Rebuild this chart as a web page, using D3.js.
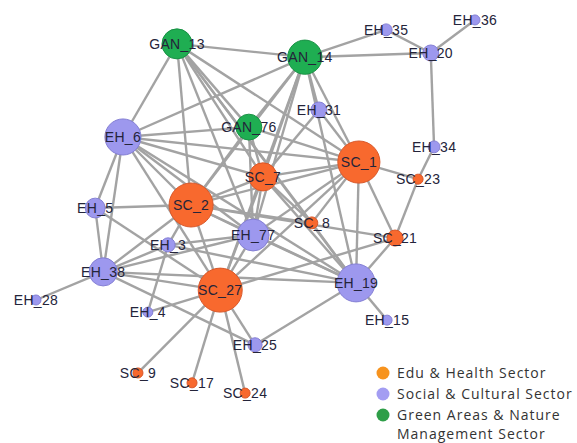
<!DOCTYPE html>
<html>
<head>
<meta charset="utf-8">
<script src="https://cdnjs.cloudflare.com/ajax/libs/d3/7.8.5/d3.min.js"></script>
<style>
  body { margin: 0; background: #fff; }
  #chart { width: 577px; height: 443px; }
</style>
</head>
<body>
<div id="chart"></div>
<script>
// node list: name, sector, layout position (0-100 units) and weight (1-10)
var nodeNames = ["GAN_13","GAN_14","EH_35","EH_36","EH_20","EH_31","GAN_76","EH_6","SC_7","SC_1",
                 "EH_34","SC_23","SC_2","EH_5","EH_77","SC_8","SC_21","EH_3","EH_38","SC_27",
                 "EH_19","EH_28","EH_4","EH_15","EH_25","SC_9","SC_17","SC_24"];
var nodeSector = ["GAN","GAN","EH","EH","EH","EH","GAN","EH","SC","SC",
                  "EH","SC","SC","EH","EH","SC","SC","EH","EH","SC",
                  "EH","EH","EH","EH","EH","SC","SC","SC"];
var nodeX = [33.4,60.6,77.9,96.8,87.4,63.6,48.7,21.9,51.7,72.1,
             88.1,84.7,36.4,16.0,49.6,62.1,79.8,31.5,17.7,42.6,
             71.5,3.4,27.2,78.1,50.0,25.1,36.6,47.9];
var nodeY = [7.6,11.1,3.9,1.3,10.0,25.0,29.5,32.1,42.6,38.7,
             34.7,43.2,50.0,50.8,57.9,54.7,58.7,60.5,67.6,72.4,
             70.5,75.0,78.2,80.3,86.8,94.2,96.8,99.5];
var nodeWeight = [6.3,7.4,1.5,1,2.6,2.6,5.2,7.9,5.8,9.5,
                  1.5,1,10,3.6,6.8,1.5,2.6,2.1,5.8,10,
                  8.4,1,1,1,2.1,1,1,1];

var edgeList = [
  ["GAN_13","GAN_14"],["GAN_13","EH_6"],["GAN_13","SC_2"],["GAN_13","GAN_76"],["GAN_13","SC_7"],
  ["GAN_13","EH_77"],["GAN_13","SC_1"],["GAN_13","SC_8"],["GAN_13","EH_19"],
  ["GAN_14","EH_35"],["GAN_14","EH_20"],["GAN_14","EH_6"],["GAN_14","GAN_76"],["GAN_14","SC_2"],
  ["GAN_14","SC_7"],["GAN_14","EH_77"],["GAN_14","SC_27"],["GAN_14","EH_31"],["GAN_14","SC_1"],
  ["GAN_14","EH_19"],
  ["EH_35","EH_20"],["EH_20","EH_36"],["EH_20","EH_34"],["EH_34","SC_23"],["SC_23","SC_1"],
  ["SC_23","SC_21"],
  ["EH_6","GAN_76"],["EH_6","SC_7"],["EH_6","SC_1"],["EH_6","SC_2"],["EH_6","EH_77"],
  ["EH_6","EH_19"],["EH_6","EH_5"],["EH_6","EH_38"],["EH_6","SC_27"],
  ["EH_5","SC_2"],["EH_5","EH_38"],["EH_5","SC_27"],
  ["EH_38","EH_28"],["EH_38","EH_3"],["EH_38","SC_2"],["EH_38","EH_77"],["EH_38","SC_27"],
  ["EH_38","EH_25"],["EH_38","EH_19"],
  ["EH_3","EH_4"],["EH_3","SC_2"],["EH_3","EH_77"],["EH_3","EH_19"],
  ["EH_4","SC_27"],
  ["SC_27","SC_2"],["SC_27","EH_77"],["SC_27","SC_7"],["SC_27","SC_1"],["SC_27","SC_21"],
  ["SC_27","SC_9"],["SC_27","SC_17"],["SC_27","SC_24"],["SC_27","EH_25"],
  ["EH_25","EH_19"],
  ["EH_19","EH_15"],["EH_19","SC_8"],["EH_19","SC_21"],["EH_19","SC_1"],["EH_19","SC_7"],
  ["EH_19","EH_77"],["EH_19","SC_2"],
  ["SC_2","SC_7"],["SC_2","SC_1"],["SC_2","EH_77"],["SC_2","SC_8"],["SC_2","SC_21"],["SC_2","GAN_76"],
  ["SC_7","GAN_76"],["SC_7","SC_1"],["SC_7","EH_77"],["SC_7","SC_8"],["SC_7","EH_31"],
  ["GAN_76","EH_77"],["GAN_76","SC_1"],
  ["SC_1","EH_31"],["SC_1","SC_21"],["SC_1","SC_8"],["SC_1","EH_77"]
];

var legendLabels = ["Edu & Health Sector", "Social & Cultural Sector", "Green Areas & Nature", "Management Sector"];
var legendColors = ["#f7931e", "#a39df2", "#2e9e48"];

var width = 577, height = 443;

var fillColor = d3.scaleOrdinal().domain(["SC","EH","GAN"]).range(["#f8692e","#9d98ee","#1fae52"]);
var strokeColor = d3.scaleOrdinal().domain(["SC","EH","GAN"]).range(["#d9582a","#8580d4","#1a9145"]);

var xScale = d3.scaleLinear().domain([0, 100]).range([20, 490]);
var yScale = d3.scaleLinear().domain([0, 100]).range([15, 395]);
var rScale = d3.scaleLinear().domain([1, 10]).range([5, 22]);

var nodes = nodeNames.map(function (n, i) {
  return { id: n, sector: nodeSector[i], x: xScale(nodeX[i]), y: yScale(nodeY[i]), r: rScale(nodeWeight[i]) };
});
var byId = {};
nodes.forEach(function (d) { byId[d.id] = d; });
var links = edgeList.map(function (e) { return { source: byId[e[0]], target: byId[e[1]] }; });

var svg = d3.select("#chart")
  .append("svg")
  .attr("width", width)
  .attr("height", height);

svg.append("g")
  .selectAll("line")
  .data(links)
  .enter()
  .append("line")
  .attr("x1", function (d) { return d.source.x; })
  .attr("y1", function (d) { return d.source.y; })
  .attr("x2", function (d) { return d.target.x; })
  .attr("y2", function (d) { return d.target.y; })
  .attr("stroke", "#a3a3a3")
  .attr("stroke-width", 2.4);

svg.append("g")
  .selectAll("circle")
  .data(nodes)
  .enter()
  .append("circle")
  .attr("cx", function (d) { return d.x; })
  .attr("cy", function (d) { return d.y; })
  .attr("r", function (d) { return d.r; })
  .attr("fill", function (d) { return fillColor(d.sector); })
  .attr("stroke", function (d) { return strokeColor(d.sector); })
  .attr("stroke-width", 1);

svg.append("g")
  .selectAll("text")
  .data(nodes)
  .enter()
  .append("text")
  .attr("x", function (d) { return d.x; })
  .attr("y", function (d) { return d.y; })
  .attr("dy", "0.36em")
  .attr("text-anchor", "middle")
  .style("font-family", "'Liberation Sans', Arial, sans-serif")
  .style("font-size", "14px")
  .style("letter-spacing", "0.3px")
  .style("fill", "#24243a")
  .text(function (d) { return d.id; });

// legend (last label is the wrapped second line of the green entry)
var legend = svg.append("g").attr("transform", "translate(383,373)");
legend.selectAll("circle")
  .data(legendColors)
  .enter()
  .append("circle")
  .attr("cx", 0)
  .attr("cy", function (d, i) { return i * 21; })
  .attr("r", 6.5)
  .attr("fill", function (d) { return d; });

legend.selectAll("text")
  .data(legendLabels)
  .enter()
  .append("text")
  .attr("x", 14)
  .attr("y", function (d, i) { return i < 3 ? i * 21 : 61; })
  .attr("dy", "0.35em")
  .style("font-family", "'Open Sans', sans-serif")
  .style("font-size", "14px")
  .style("letter-spacing", "1px")
  .style("fill", "#333")
  .text(function (d) { return d; });
</script>
</body>
</html>
